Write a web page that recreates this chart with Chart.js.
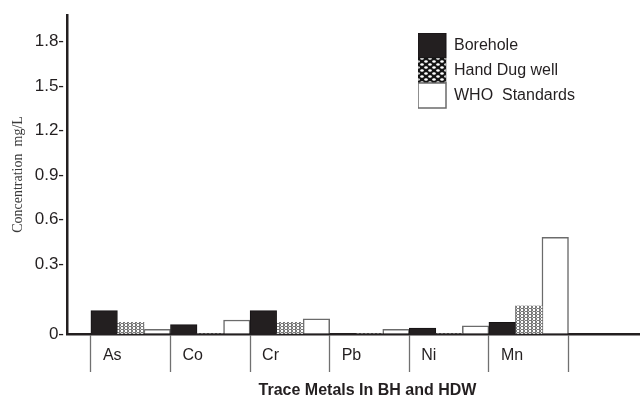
<!DOCTYPE html>
<html>
<head>
<meta charset="utf-8">
<script src="https://cdn.jsdelivr.net/npm/chart.js@4.4.1/dist/chart.umd.min.js"></script>
<style>
  html, body { margin: 0; padding: 0; background: #ffffff; }
  #wrap { width: 640px; height: 399px; }
</style>
</head>
<body>
<div id="wrap"><canvas id="chart" width="640" height="399"></canvas></div>
<script>
// Trace metal concentrations (mg/L) in boreholes, hand dug wells and the WHO limits
const metals = ['As', 'Co', 'Cr', 'Pb', 'Ni', 'Mn'];
const borehole = [0.10, 0.04, 0.10, 0, 0.025, 0.05];
const handDugWell = [0.05, 0, 0.05, 0, 0, 0.12];
const whoStandards = [0.02, 0.06, 0.065, 0.02, 0.035, 0.48];
const yTicks = [0, 0.3, 0.6, 0.9, 1.2, 1.5, 1.8];
const seriesNames = ['Borehole', 'Hand Dug well', 'WHO  Standards'];

const SANS = 'Arial, "Liberation Sans", sans-serif';
const SERIF = '"Times New Roman", "Liberation Serif", serif';
const INK = '#231f20';

// Linear axis whose lowest segment (0 .. breakAt) is stretched over breakFraction of the height
class BrokenLinearScale extends Chart.LinearScale {
  static id = 'brokenLinear';
  _decimalFor(value) {
    const b = this.options.breakAt;
    const f = this.options.breakFraction;
    if (value <= b) return f * (value - this.min) / (b - this.min);
    return f + (1 - f) * (value - b) / (this.max - b);
  }
  getPixelForValue(value) {
    if (value === null || value === undefined || isNaN(value)) return NaN;
    return this.getPixelForDecimal(this._decimalFor(value));
  }
  getValueForPixel(pixel) {
    const d = this.getDecimalForPixel(pixel);
    const b = this.options.breakAt;
    const f = this.options.breakFraction;
    if (d <= f) return this.min + (d / f) * (b - this.min);
    return b + ((d - f) / (1 - f)) * (this.max - b);
  }
}
Chart.register(BrokenLinearScale);

const canvas = document.getElementById('chart');
const ctx = canvas.getContext('2d');

function makePattern(w, h, paint) {
  const tile = document.createElement('canvas');
  tile.width = w; tile.height = h;
  paint(tile.getContext('2d'));
  return ctx.createPattern(tile, 'repeat');
}

// fine grey stipple used inside the hand dug well bars
const hdwBarFill = makePattern(4, 3, g => {
  g.fillStyle = '#7a7a7a'; g.fillRect(0, 0, 4, 3);
  g.fillStyle = '#ffffff'; g.fillRect(1, 0, 2, 2);
  g.fillStyle = '#cfcfcf'; g.fillRect(0, 2, 1, 1);
});
// coarser honeycomb for the legend swatch
const hdwLegendFill = makePattern(8, 6, g => {
  g.fillStyle = '#151515'; g.fillRect(0, 0, 8, 6);
  g.fillStyle = '#ffffff';
  const oval = (x, y) => { g.beginPath(); g.ellipse(x, y, 1.8, 1.2, 0, 0, Math.PI * 2); g.fill(); };
  oval(2, 1.5); oval(6, 4.5); oval(-2, 4.5); oval(10, 1.5);
});

const toPoints = values => values.map((v, i) => ({ x: i + 0.5, y: v }));

// lets the category axis run past the right edge of the canvas and
// moves the legend block into the upper right of the plot
const plotLayout = {
  id: 'plotLayout',
  afterLayout(chart, args, opts) {
    const x = chart.scales.x;
    x.right += opts.axisOverhang;
    x.width = x.right - x.left;
    x.configure();

    const lg = chart.legend;
    if (!lg) return;
    const w = lg.width, h = lg.height;
    lg.left = chart.chartArea.left + opts.legendDx;
    lg.top = chart.chartArea.top + opts.legendDy;
    lg.right = lg.left + w;
    lg.bottom = lg.top + h;
  }
};

new Chart(ctx, {
  type: 'bar',
  data: {
    datasets: [
      {
        label: seriesNames[0],
        data: toPoints(borehole),
        backgroundColor: INK,
        borderColor: '#161314',
        borderWidth: 1
      },
      {
        label: seriesNames[1],
        data: toPoints(handDugWell),
        backgroundColor: hdwBarFill,
        borderColor: '#9a9a9a',
        borderWidth: 0,
        legendFill: hdwLegendFill
      },
      {
        label: seriesNames[2],
        data: toPoints(whoStandards),
        backgroundColor: '#ffffff',
        borderColor: '#6b6b6b',
        borderWidth: 1.5
      }
    ]
  },
  options: {
    responsive: false,
    animation: false,
    events: [],
    devicePixelRatio: 1,
    layout: { padding: { top: 15, right: 0, bottom: 0, left: 0 } },
    datasets: {
      bar: { categoryPercentage: 1, barPercentage: 1 }
    },
    scales: {
      x: {
        type: 'linear',
        min: -0.3,
        max: 7.25,
        bounds: 'data',
        offset: false,
        afterBuildTicks: s => { s.ticks = metals.concat(['']).map((_, i) => ({ value: i })); },
        afterFit: s => { s.height = 65; },
        grid: {
          offset: false,
          drawOnChartArea: false,
          drawTicks: true,
          tickLength: 38,
          tickColor: '#707070',
          tickWidth: 1.3
        },
        border: { display: true, color: INK, width: 2.5 },
        ticks: {
          autoSkip: false,
          maxRotation: 0,
          minRotation: 0,
          align: 'start',
          labelOffset: 12,
          padding: -26,
          color: INK,
          font: { family: SANS, size: 16 },
          callback: v => metals[v] ?? ''
        },
        title: {
          display: true,
          text: 'Trace Metals In BH and HDW',
          color: INK,
          padding: 0,
          font: { family: SANS, size: 16, weight: 'bold', lineHeight: 1 }
        }
      },
      y: {
        type: 'brokenLinear',
        min: 0,
        max: 1.98,
        bounds: 'data',
        breakAt: 0.3,
        breakFraction: 70 / 319,
        afterBuildTicks: s => { s.ticks = yTicks.map(v => ({ value: v })); },
        afterFit: s => { s.width = 67; },
        grid: { drawOnChartArea: false, drawTicks: false },
        border: { display: true, color: INK, width: 2.5 },
        ticks: {
          padding: 3,
          color: INK,
          font: { family: SANS, size: 17 },
          callback: v => v + '-'
        },
        title: {
          display: true,
          text: 'Concentration  mg/L',
          color: '#3a3a3a',
          padding: { top: 10, bottom: 0 },
          font: { family: SERIF, size: 14 }
        }
      }
    },
    plugins: {
      tooltip: { enabled: false },
      plotLayout: { axisOverhang: 28, legendDx: 351, legendDy: 18 },
      legend: {
        display: true,
        position: 'chartArea',
        align: 'start',
        labels: {
          boxWidth: 28,
          boxHeight: 25,
          padding: 0,
          color: INK,
          font: { family: SANS, size: 16 },
          generateLabels(chart) {
            const items = Chart.defaults.plugins.legend.labels.generateLabels(chart);
            items.forEach((item, i) => {
              const ds = chart.data.datasets[i];
              if (ds.legendFill) item.fillStyle = ds.legendFill;
              if (i === 1) { item.lineWidth = 0.5; item.strokeStyle = '#151515'; }
            });
            return items;
          }
        }
      }
    }
  },
  plugins: [plotLayout]
});
</script>
</body>
</html>
